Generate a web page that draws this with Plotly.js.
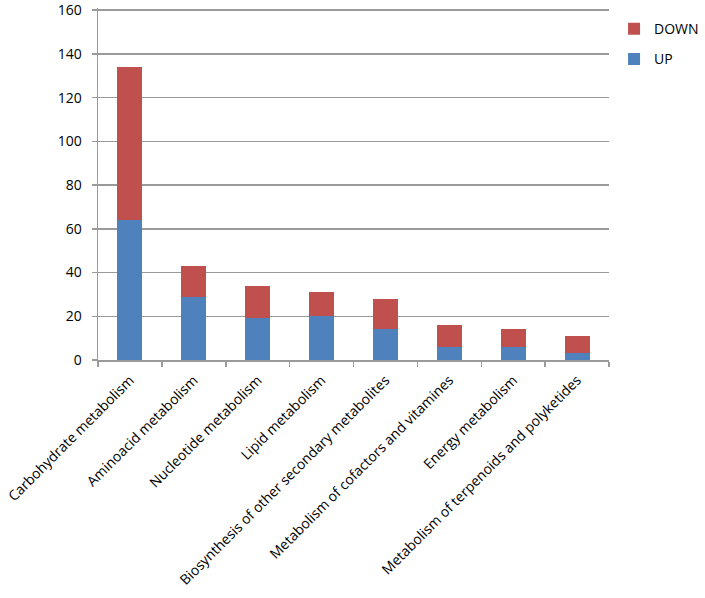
<!DOCTYPE html>
<html>
<head>
<meta charset="utf-8">
<script src="https://cdn.plot.ly/plotly-3.0.1.min.js"></script>
<style>html,body{margin:0;padding:0;background:#fff;}#chart{width:705px;height:598px;}</style>
</head>
<body>
<div id="chart"></div>
<script>
const categories = [
  "Carbohydrate metabolism",
  "Aminoacid metabolism",
  "Nucleotide metabolism",
  "Lipid metabolism",
  "Biosynthesis of other secondary metabolites",
  "Metabolism of cofactors and vitamines",
  "Energy metabolism",
  "Metabolism of terpenoids and polyketides"
];
const upValues = [64, 29, 19, 20, 14, 6, 6, 3];
const downValues = [70, 14, 15, 11, 14, 10, 8, 8];
const yTickValues = [0, 20, 40, 60, 80, 100, 120, 140, 160];

const font = {family: "'Open Sans', 'DejaVu Sans', sans-serif", size: 14, color: '#000'};
const gray = '#9a9a9a';

const traces = [
  {type: 'bar', name: 'UP', x: categories, y: upValues, marker: {color: '#4F81BD'}, legendgroup: 'up', legendrank: 2},
  {type: 'bar', name: 'DOWN', x: categories, y: downValues, marker: {color: '#C0504D'}, legendgroup: 'down', legendrank: 1}
];

const layout = {
  width: 705, height: 598,
  margin: {l: 98, r: 96, t: 8, b: 238},
  barmode: 'stack',
  bargap: 0.61,
  font: font,
  paper_bgcolor: '#fff',
  plot_bgcolor: '#fff',
  showlegend: true,
  legend: {
    xref: 'container', yref: 'container',
    x: 0.871, xanchor: 'left', y: 0.978, yanchor: 'top',
    traceorder: 'grouped', tracegroupgap: 9,
    font: {family: font.family, size: 14, color: '#000'},
    bgcolor: 'rgba(0,0,0,0)'
  },
  xaxis: {
    type: 'category',
    tickangle: -45,
    showline: true, linecolor: gray, linewidth: 1.5,
    ticks: 'outside', tickson: 'boundaries', ticklen: 5, tickcolor: gray, tickwidth: 1.5,
    showgrid: false, zeroline: false,
    ticklabelstandoff: 5,
    tickfont: {family: font.family, size: 14, color: '#000'},
    automargin: false
  },
  yaxis: {
    range: [0, 161],
    tickvals: yTickValues,
    ticktext: yTickValues.map(String),
    showline: true, linecolor: gray, linewidth: 1.5,
    ticks: 'outside', ticklen: 5, tickcolor: gray, tickwidth: 1.5,
    showgrid: true, gridcolor: gray, gridwidth: 1.5,
    zeroline: false,
    ticklabelstandoff: 7,
    ticklabeloverflow: 'allow',
    tickfont: {family: font.family, size: 14, color: '#000'},
    automargin: false
  }
};

Plotly.newPlot('chart', traces, layout, {displayModeBar: false, staticPlot: true});
</script>
</body>
</html>
